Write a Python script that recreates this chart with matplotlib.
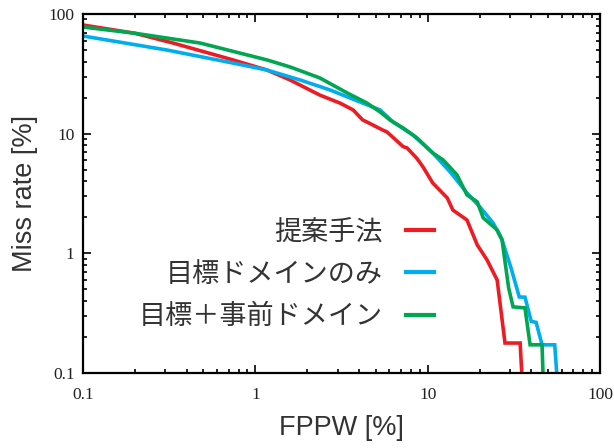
import matplotlib
matplotlib.use("Agg")
import matplotlib.pyplot as plt
from matplotlib.ticker import FixedLocator, FixedFormatter, LogLocator, NullFormatter

# Data (FPPW [%], Miss rate [%])
proposed_x = [0.1, 0.2, 0.333, 0.743, 0.93, 1.17, 1.59, 2.37, 3.1, 3.69, 4.2, 4.45, 5.5, 5.81, 7.2, 7.59, 8.67, 9.40, 10.7, 13.0, 14.0, 16.9, 19.4, 22.1, 25.3, 28.1, 34.4, 35.3]
proposed_y = [80.9, 69.0, 57.2, 41.3, 37.5, 34.0, 28.1, 21.0, 18.0, 15.8, 13.0, 12.5, 10.7, 10.33, 7.8, 7.60, 6.2, 5.27, 3.87, 2.90, 2.30, 1.90, 1.175, 0.881, 0.599, 0.178, 0.178, 0.09]

target_x = [0.1, 0.307, 0.743, 1.17, 1.82, 2.71, 4.05, 5.29, 6.30, 8.22, 10.7, 13.5, 16.9, 20.1, 24.0, 27.0, 30.5, 34.0, 36.7, 39.9, 42.6, 46.1, 54.6, 56.4]
target_y = [65.5, 50.0, 38.9, 34.0, 28.1, 23.2, 18.4, 15.8, 12.5, 9.75, 6.90, 4.79, 3.20, 2.44, 1.79, 1.30, 0.75, 0.432, 0.43, 0.27, 0.265, 0.172, 0.172, 0.09]

combined_x = [0.1, 0.195, 0.478, 1.17, 1.59, 2.37, 3.41, 4.45, 5.29, 6.05, 7.20, 8.67, 10.7, 12.3, 14.8, 16.9, 19.4, 21.0, 25.3, 27.0, 29.5, 31.3, 36.7, 39.3, 46.1, 46.8]
combined_y = [77.8, 69.4, 57.2, 41.3, 36.1, 29.2, 21.9, 18.0, 15.2, 13.0, 11.16, 9.21, 6.90, 6.03, 4.52, 3.08, 2.69, 1.98, 1.57, 1.30, 0.514, 0.357, 0.350, 0.172, 0.172, 0.09]

labels = ["提案手法", "目標ドメインのみ", "目標＋事前ドメイン"]
colors = ["#ED1C24", "#00AEEF", "#00A651"]

tick_vals = [0.1, 1, 10, 100]
tick_labels = ["0.1", "1", "10", "100"]

fig = plt.figure(figsize=(6.14, 4.48), dpi=100)
ax = fig.add_axes([83/614, 1 - 373/448, (600-83)/614, (373-14)/448])

series = [(proposed_x, proposed_y), (target_x, target_y), (combined_x, combined_y)]
for (xs, ys), lab, col in zip(series, labels, colors):
    ax.plot(xs, ys, color=col, lw=2.6, label=lab, solid_joinstyle="miter")

ax.set_xscale("log")
ax.set_yscale("log")
ax.set_xlim(0.1, 100)
ax.set_ylim(0.1, 100)

for axis in (ax.xaxis, ax.yaxis):
    axis.set_major_locator(FixedLocator(tick_vals))
    axis.set_major_formatter(FixedFormatter(tick_labels))
    axis.set_minor_locator(LogLocator(base=10, subs=range(2, 10)))
    axis.set_minor_formatter(NullFormatter())

ax.tick_params(which="both", direction="in", top=True, right=True, width=1.2, colors="black")
ax.tick_params(which="major", length=6)
ax.tick_params(which="minor", length=3)
ax.tick_params(axis="x", pad=10)
ax.tick_params(axis="y", pad=6)
for lab in ax.get_xticklabels() + ax.get_yticklabels():
    lab.set_fontfamily("Liberation Serif")
    lab.set_fontsize(12.5)
    lab.set_color("#222222")
for sp in ax.spines.values():
    sp.set_linewidth(1.6)

ax.set_xlabel("FPPW [%]", fontsize=19.5, family="Liberation Sans", color="#333333", labelpad=9)
ax.set_ylabel("Miss rate [%]", fontsize=19.5, family="Liberation Sans", color="#333333", labelpad=8)

leg = ax.legend(loc="upper right", bbox_to_anchor=(0.746, 0.567), bbox_transform=fig.transFigure,
                markerfirst=False, frameon=False, handlelength=1.03, handletextpad=0.85,
                labelspacing=0.57, prop={"family": ["Noto Sans CJK JP", "DejaVu Sans"], "size": 19.5})
for t in leg.get_texts():
    t.set_color("#333333")
for h in leg.get_lines():
    h.set_linewidth(3.0)

fig.savefig("out.png", dpi=100)
